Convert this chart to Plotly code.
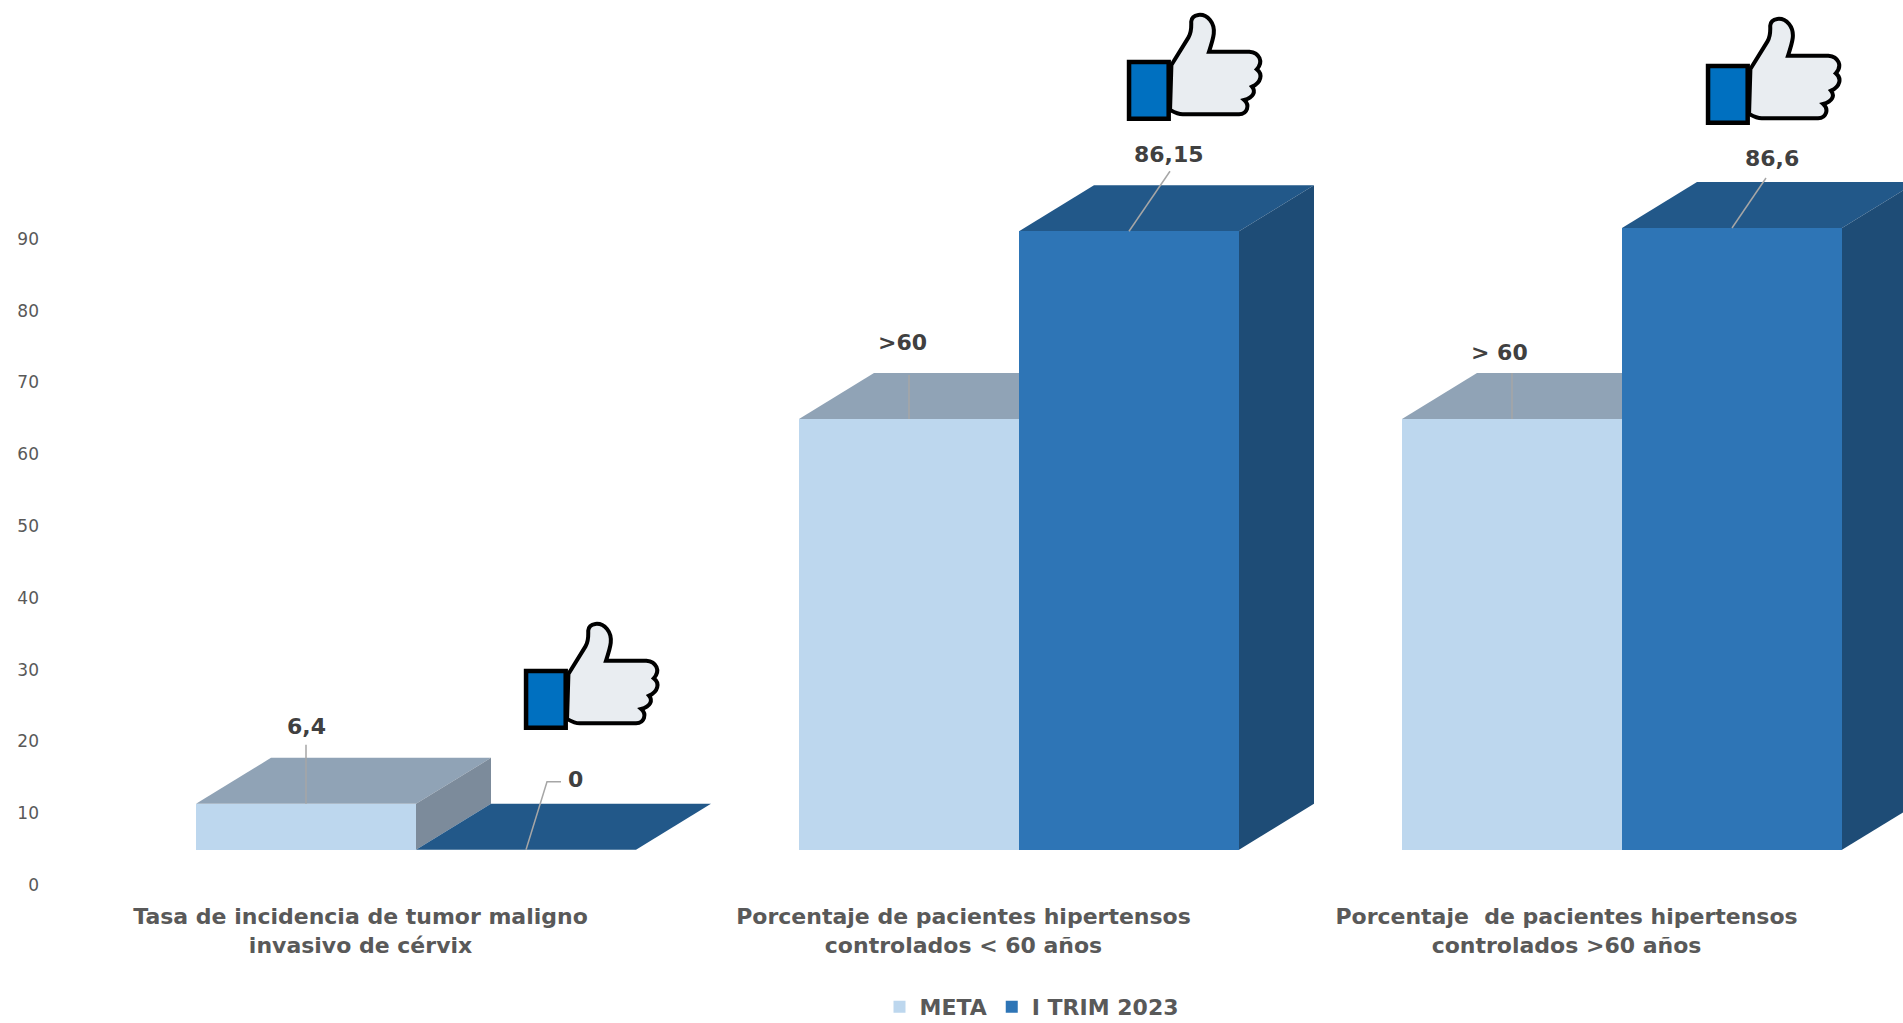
import plotly.graph_objects as go

categories = ["Tasa de incidencia de tumor maligno<br>invasivo de cérvix",
              "Porcentaje de pacientes hipertensos<br>controlados &lt; 60 años",
              "Porcentaje  de pacientes hipertensos<br>controlados &gt;60 años"]
meta_values = [6.4, 60, 60]
trim_values = [0, 86.15, 86.6]
meta_labels = ["6,4", ">60", "> 60"]
trim_labels = ["0", "86,15", "86,6"]
y_ticks = [0, 10, 20, 30, 40, 50, 60, 70, 80, 90]

W, H = 1903, 1023
ML, MB = 44, 138
PX_UNIT_X = 603.0
PX_UNIT_Y = 7.18
X0_PX = 416.0
BAR_W = 220 / PX_UNIT_X
DEPTH_X = 75 / PX_UNIT_X
DEPTH_Y = 46 / PX_UNIT_Y
FLOOR = 4.9
idx = list(range(len(categories)))

FONT = "DejaVu Sans"
GREY = "#595959"

fig = go.Figure()


def add_series(name, values, xs, front, top, side, z):
    for x, v in zip(xs, values):
        l, r = x - BAR_W / 2, x + BAR_W / 2
        t = v + FLOOR
        fig.add_trace(go.Scatter(
            x=[l, l + DEPTH_X, r + DEPTH_X, r, l],
            y=[t, t + DEPTH_Y, t + DEPTH_Y, t, t],
            mode="lines", fill="toself", fillcolor=top, line=dict(width=0),
            hoverinfo="skip", showlegend=False, zorder=z))
        if v > 0:
            fig.add_trace(go.Scatter(
                x=[r, r + DEPTH_X, r + DEPTH_X, r, r],
                y=[t, t + DEPTH_Y, FLOOR + DEPTH_Y, FLOOR, t],
                mode="lines", fill="toself", fillcolor=side, line=dict(width=0),
                hoverinfo="skip", showlegend=False, zorder=z))
    fig.add_trace(go.Bar(x=xs, y=values, base=FLOOR, width=BAR_W, name=name,
                         marker=dict(color=front, line=dict(width=0)), zorder=z + 1))


meta_x = [i - BAR_W / 2 for i in idx]
trim_x = [i + BAR_W / 2 for i in idx]
add_series("META", meta_values, meta_x, "#BDD7EE", "#90A3B6", "#7C8B9B", 0)
add_series("I TRIM 2023", trim_values, trim_x, "#2E75B6", "#225889", "#1E4C76", 2)

# data labels with leader lines (offsets in pixels from the top of each bar)
meta_off = [(0, 77, [(0, 0), (0, 59)]), (-7, 77, [(0, 0), (0, 44)]), (-13, 67, [(0, 0), (0, 46)])]
trim_off = [(49, 70, [(0, 0), (21, 68), (35, 68)]), (40, 77, [(0, 0), (41, 60)]), (40, 70, [(0, 0), (34, 50)])]
annotations, shapes = [], []
for xs, vals, labs, offs in ((meta_x, meta_values, meta_labels, meta_off),
                             (trim_x, trim_values, trim_labels, trim_off)):
    for x, v, lab, (dx, dy, pts) in zip(xs, vals, labs, offs):
        annotations.append(dict(x=x, y=v + FLOOR, xref="x", yref="y", text=lab, showarrow=False,
                                xshift=dx, yshift=dy,
                                font=dict(family=FONT, size=22, color="#404040", weight="bold")))
        path = "M" + " L".join(f"{a},{b}" for a, b in pts)
        shapes.append(dict(type="path", path=path, xsizemode="pixel", ysizemode="pixel",
                           xanchor=x, yanchor=v + FLOOR, xref="x", yref="y",
                           line=dict(color="#A6A6A6", width=1.5)))


# thumbs-up icons, placed by their top-left pixel
ICON_SX, ICON_SY = 1.025, 1.0


def px(x, y):
    return (x - ML) / (W - ML), (H - MB - y) / (H - MB)


def icon_path(cmds, ox, oy):
    out = []
    for c, pts in cmds:
        s = c
        for zx, zy in pts:
            a, b = px(ox + ICON_SX * (zx - 142) / 3, oy + ICON_SY * (zy - 36) / 3)
            s += f"{a:.5f},{b:.5f} "
        out.append(s)
    return " ".join(out) + " Z"


HAND = [("M", [(272, 195)]), ("L", [(322, 112)]),
        ("C", [(332, 95), (330, 80), (330, 65)]),
        ("C", [(332, 42), (365, 36), (385, 60)]),
        ("C", [(405, 85), (395, 115), (382, 155)]),
        ("L", [(500, 155)]),
        ("C", [(530, 158), (542, 185), (522, 208)]),
        ("C", [(540, 222), (535, 248), (508, 260)]),
        ("C", [(520, 275), (512, 292), (485, 300)]),
        ("C", [(502, 315), (495, 342), (470, 343)]),
        ("L", [(305, 343)]),
        ("C", [(290, 343), (282, 338), (268, 330)])]
CUFF = [("M", [(148, 186)]), ("L", [(264, 186)]), ("L", [(264, 356)]), ("L", [(148, 356)])]
icon_origins = [(524, 621), (1127, 12), (1706, 16)]
for ox, oy in icon_origins:
    shapes.append(dict(type="path", path=icon_path(HAND, ox, oy), xref="paper", yref="paper",
                       fillcolor="#E9EDF1", line=dict(color="#000000", width=4)))
    shapes.append(dict(type="path", path=icon_path(CUFF, ox, oy), xref="paper", yref="paper",
                       fillcolor="#0070C0", line=dict(color="#000000", width=4.5)))

fig.update_layout(
    width=W, height=H, margin=dict(l=ML, r=0, t=0, b=MB, autoexpand=False),
    paper_bgcolor="white", plot_bgcolor="white",
    barmode="overlay", bargap=0,
    annotations=annotations, shapes=shapes,
    legend=dict(orientation="h", x=(1032 - ML) / (W - ML), xanchor="center",
                yref="container", y=1 - 1007 / H, yanchor="middle",
                font=dict(family=FONT, size=22, color=GREY, weight="bold"),
                itemwidth=30, traceorder="normal"),
    xaxis=dict(range=[(ML - X0_PX) / PX_UNIT_X, (W - X0_PX) / PX_UNIT_X],
               tickmode="array", tickvals=[i - 0.092 for i in idx], ticktext=categories,
               showgrid=False, zeroline=False, showline=False, ticks="",
               ticklabelstandoff=16, tickangle=0,
               tickfont=dict(family=FONT, size=22, color=GREY, weight="bold")),
    yaxis=dict(range=[0, (H - MB) / PX_UNIT_Y], tickmode="array", tickvals=y_ticks,
               showgrid=False, zeroline=False, showline=False, ticks="",
               ticklabelstandoff=4,
               tickfont=dict(family=FONT, size=17, color=GREY)),
)

fig.write_html("out.html", post_script="document.body.style.margin='0';",
               config=dict(displayModeBar=False))
